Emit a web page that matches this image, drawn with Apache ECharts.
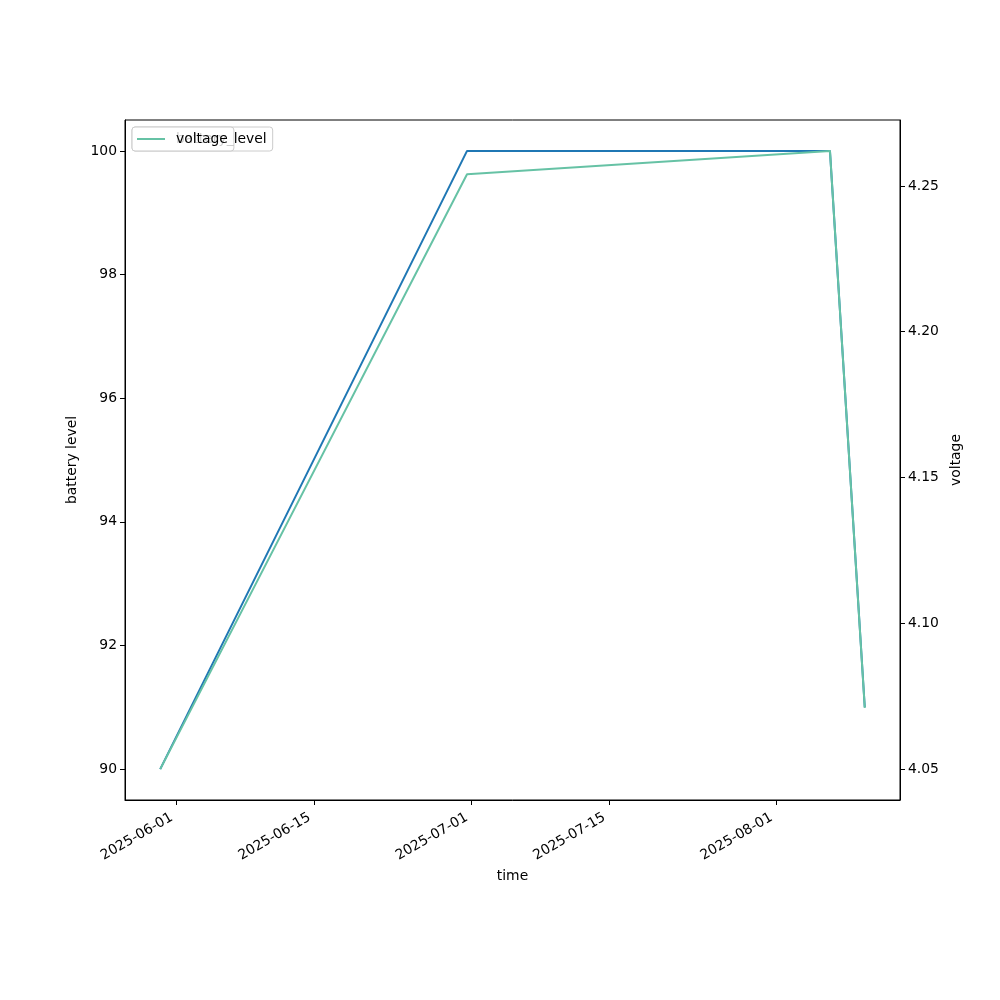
<!DOCTYPE html>
<html>
<head>
<meta charset="utf-8">
<script src="https://cdn.jsdelivr.net/npm/echarts@6/dist/echarts.min.js"></script>
<style>html,body{margin:0;padding:0;background:#fff;}#chart{width:1000px;height:1000px;}</style>
</head>
<body>
<div id="chart"></div>
<script>
var times = ['2025-05-30T09:00:00', '2025-06-30T14:00:00', '2025-08-06T12:00:00', '2025-08-10T01:00:00'];
var batteryLevel = [90, 100, 100, 91];
var voltage = [4.05, 4.254, 4.262, 4.071];
var xTickLabels = ['2025-06-01', '2025-06-15', '2025-07-01', '2025-07-15', '2025-08-01'];
var leftTicks = [90, 92, 94, 96, 98, 100];
var rightTicks = [4.05, 4.10, 4.15, 4.20, 4.25];

var FONT = 'DejaVu Sans';
var FS = 13.9;

function ts(s) { return new Date(s).getTime(); }
var tVals = times.map(ts);
var xTickVals = xTickLabels.map(function (d) { return ts(d + 'T00:00:00'); });

function padRange(arr) {
  var mn = Math.min.apply(null, arr), mx = Math.max.apply(null, arr);
  var s = mx - mn;
  return [mn - 0.05 * s, mx + 0.05 * s];
}
var xr = padRange(tVals), lr = padRange(batteryLevel), rr = padRange(voltage);

function pairs(ys) { return tVals.map(function (t, i) { return [t, ys[i]]; }); }
function fmtDate(v) {
  for (var i = 0; i < xTickVals.length; i++) {
    if (Math.abs(xTickVals[i] - v) < 1000) return xTickLabels[i];
  }
  return '';
}

var chart = echarts.init(document.getElementById('chart'), null, { renderer: 'canvas' });
var axisCommon = {
  axisLine: { show: true, lineStyle: { color: '#000', width: 1 } },
  axisTick: { show: true, inside: false, length: 5, lineStyle: { color: '#000', width: 1 } },
  splitLine: { show: false },
  nameTextStyle: { fontFamily: FONT, fontSize: FS, color: '#000' }
};
chart.setOption({
  animation: false,
  backgroundColor: '#fff',
  textStyle: { fontFamily: FONT },
  grid: { left: 125, right: 100, top: 120, bottom: 200, show: true, borderColor: '#000', borderWidth: 1, containLabel: false },
  legend: [
    {
      data: ['battery_level'], left: 132, top: 127, z: 4,
      icon: 'rect', itemWidth: 28, itemHeight: 2,
      padding: [5, 6, 5, 5],
      backgroundColor: 'rgba(255,255,255,0.8)', borderColor: '#cccccc', borderWidth: 1, borderRadius: 3,
      textStyle: { fontFamily: FONT, fontSize: FS, color: '#000', padding: [0, 0, 0, 6] }
    },
    {
      data: ['voltage'], left: 132, top: 127, z: 6,
      icon: 'rect', itemWidth: 28, itemHeight: 2,
      padding: [5, 6, 5, 5],
      backgroundColor: 'rgba(255,255,255,0.8)', borderColor: '#cccccc', borderWidth: 1, borderRadius: 3,
      textStyle: { fontFamily: FONT, fontSize: FS, color: '#000', padding: [0, 0, 0, 6] }
    }
  ],
  xAxis: Object.assign({}, axisCommon, {
    type: 'value', min: xr[0], max: xr[1], scale: true,
    name: 'time', nameLocation: 'middle', nameGap: 67,
    axisTick: Object.assign({}, axisCommon.axisTick, { customValues: xTickVals }),
    axisLabel: {
      customValues: xTickVals, rotate: 30, margin: 14,
      padding: [0, 5, 0, 0],
      fontFamily: FONT, fontSize: FS, color: '#000',
      formatter: fmtDate
    }
  }),
  yAxis: [
    Object.assign({}, axisCommon, {
      type: 'value', position: 'left', min: lr[0], max: lr[1], scale: true,
      name: 'battery level', nameLocation: 'middle', nameGap: 44, nameRotate: 90,
      axisTick: Object.assign({}, axisCommon.axisTick, { customValues: leftTicks }),
      axisLabel: { customValues: leftTicks, fontFamily: FONT, fontSize: FS, color: '#000', margin: 8,
        formatter: function (v) { return String(Math.round(v)); } }
    }),
    Object.assign({}, axisCommon, {
      type: 'value', position: 'right', min: rr[0], max: rr[1], scale: true,
      name: 'voltage', nameLocation: 'middle', nameGap: 43, nameRotate: 90,
      axisTick: Object.assign({}, axisCommon.axisTick, { customValues: rightTicks }),
      axisLabel: { customValues: rightTicks, fontFamily: FONT, fontSize: FS, color: '#000', margin: 8,
        formatter: function (v) { return v.toFixed(2); } }
    })
  ],
  series: [
    {
      name: 'battery_level', type: 'line', yAxisIndex: 0, data: pairs(batteryLevel),
      showSymbol: false, symbol: 'none', color: '#1f77b4', lineStyle: { width: 2, color: '#1f77b4' }, z: 2
    },
    {
      name: 'voltage', type: 'line', yAxisIndex: 1, data: pairs(voltage),
      showSymbol: false, symbol: 'none', color: '#66c2a5', lineStyle: { width: 2, color: '#66c2a5' }, z: 3
    }
  ]
});
</script>
</body>
</html>
